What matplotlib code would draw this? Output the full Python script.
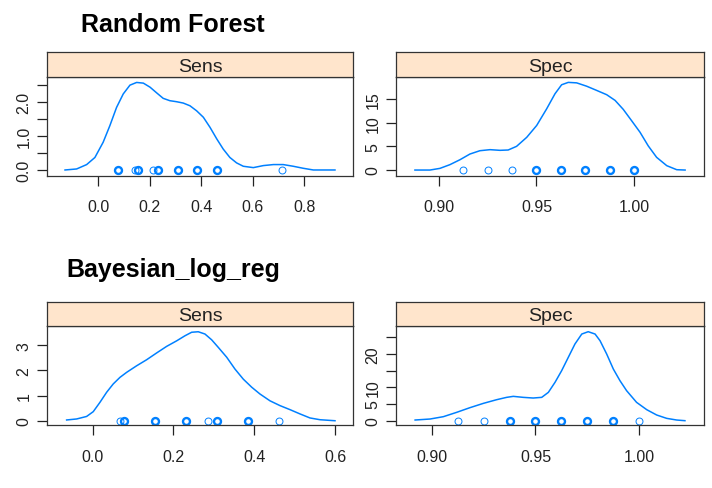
"""Density plots of Sens and Spec for two models, lattice style."""

import matplotlib.pyplot as plt

BLUE = "#0080ff"
STRIP = "#ffe5cc"

# Random Forest - Sens: density curve
rf_sens_x = [-0.129, -0.084, -0.045, -0.013, 0.019, 0.045, 0.071, 0.097, 0.123, 0.149,
             0.175, 0.201, 0.227, 0.252, 0.278, 0.304, 0.330, 0.356, 0.382, 0.408,
             0.434, 0.460, 0.485, 0.511, 0.537, 0.563, 0.602, 0.641, 0.680, 0.718,
             0.757, 0.796, 0.835, 0.919]
rf_sens_y = [0.0, 0.03, 0.16, 0.37, 0.82, 1.31, 1.85, 2.25, 2.51, 2.59,
             2.57, 2.45, 2.28, 2.12, 2.05, 2.02, 1.98, 1.90, 1.75, 1.56,
             1.26, 0.92, 0.62, 0.37, 0.21, 0.11, 0.07, 0.13, 0.16, 0.16,
             0.11, 0.05, 0.0, 0.0]
rf_sens_pts = [0.077, 0.143, 0.154, 0.214, 0.231, 0.308, 0.385, 0.462, 0.714]
rf_sens_cnt = [2, 1, 2, 1, 2, 2, 2, 2, 1]

# Random Forest - Spec
rf_spec_x = [0.8877, 0.8954, 0.9005, 0.9056, 0.9108, 0.9159, 0.9210, 0.9262, 0.9313, 0.9355,
             0.9398, 0.9450, 0.9501, 0.9552, 0.9595, 0.9629, 0.9663, 0.9706, 0.9757, 0.9809,
             0.9860, 0.9903, 0.9945, 0.9988, 1.0031, 1.0073, 1.0116, 1.0168, 1.0219, 1.0262]
rf_spec_y = [0.0, 0.0, 0.35, 1.13, 2.18, 3.38, 4.08, 4.30, 4.16, 4.23,
             5.0, 6.9, 9.4, 12.9, 16.1, 18.0, 18.5, 18.4, 17.7, 16.8,
             15.9, 14.7, 12.8, 10.4, 7.97, 5.1, 2.68, 0.92, 0.07, 0.0]
rf_spec_pts = [0.9125, 0.925, 0.9375, 0.95, 0.9625, 0.975, 0.9875, 1.0]
rf_spec_cnt = [1, 1, 1, 2, 2, 2, 2, 2]

# Bayesian_log_reg - Sens
bl_sens_x = [-0.0644, -0.0396, -0.0149, 0.0015, 0.0181, 0.0347, 0.0510, 0.0676, 0.0842, 0.1089,
             0.1337, 0.1585, 0.1832, 0.2080, 0.2285, 0.2451, 0.2614, 0.2780, 0.2946, 0.3110,
             0.3318, 0.3523, 0.3729, 0.3937, 0.4142, 0.4390, 0.4637, 0.4885, 0.5133, 0.5380,
             0.5628, 0.5999]
bl_sens_y = [0.03, 0.07, 0.17, 0.36, 0.73, 1.13, 1.46, 1.72, 1.92, 2.18,
             2.42, 2.69, 2.95, 3.17, 3.37, 3.51, 3.53, 3.44, 3.21, 2.91,
             2.52, 2.05, 1.65, 1.33, 1.06, 0.79, 0.60, 0.44, 0.27, 0.11,
             0.04, 0.0]
bl_sens_pts = [0.067, 0.077, 0.154, 0.231, 0.286, 0.308, 0.385, 0.462]
bl_sens_cnt = [1, 2, 2, 2, 1, 2, 2, 1]

# Bayesian_log_reg - Spec
bl_spec_x = [0.8920, 0.8992, 0.9056, 0.9120, 0.9184, 0.9249, 0.9313, 0.9361, 0.9393, 0.9441,
             0.9489, 0.9530, 0.9562, 0.9594, 0.9626, 0.9658, 0.9690, 0.9723, 0.9754, 0.9787,
             0.9811, 0.9843, 0.9875, 0.9907, 0.9939, 0.9987, 1.0036, 1.0084, 1.0132, 1.0180,
             1.0220]
bl_spec_y = [0.2, 0.5, 1.2, 2.5, 3.9, 5.2, 6.3, 7.0, 7.3, 7.0,
             6.8, 7.0, 8.5, 11.5, 15.0, 19.0, 23.0, 26.0, 26.7, 26.0,
             24.0, 20.0, 15.5, 12.0, 9.0, 5.5, 3.3, 1.7, 0.7, 0.2,
             0.0]
bl_spec_pts = [0.9125, 0.925, 0.9375, 0.95, 0.9625, 0.975, 0.9875, 1.0]
bl_spec_cnt = [1, 1, 2, 2, 2, 2, 2, 1]

plt.rcParams["font.family"] = ["Liberation Sans", "DejaVu Sans"]

fig = plt.figure(figsize=(7.12, 4.89), dpi=100)


def panel(rect, strip_h, label, cx, cy, pts, cnt, xlim, ylim, xticks, yticks, ylabels):
    left, bottom, width, height = rect
    ax = fig.add_axes([left, bottom, width, height])
    ax.plot(cx, cy, color=BLUE, lw=1.1, solid_joinstyle="round")
    for p, c in zip(pts, cnt):
        ax.plot([p], [0], marker="o", ms=5, mfc="none", mec=BLUE,
                mew=0.7 if c == 1 else 1.7, ls="none")
    ax.set_xlim(*xlim)
    ax.set_ylim(*ylim)
    ax.set_xticks(xticks)
    ax.set_xticklabels([f"{t:.1f}" if xticks[-1] < 0.9 else f"{t:.2f}" for t in xticks])
    ax.set_yticks(yticks)
    ax.set_yticklabels(ylabels, rotation=90, va="center")
    ax.tick_params(direction="out", length=7, width=0.9, labelsize=11.5,
                   colors="#222222")
    ax.tick_params(axis="x", pad=10)
    ax.tick_params(axis="y", pad=4)
    for s in ax.spines.values():
        s.set_linewidth(0.9)
        s.set_color("#333333")

    sx = fig.add_axes([left, bottom + height, width, strip_h])
    sx.set_facecolor(STRIP)
    sx.set_xticks([])
    sx.set_yticks([])
    for s in sx.spines.values():
        s.set_linewidth(0.9)
        s.set_color("#333333")
    sx.text(0.5, 0.42, label, ha="center", va="center", fontsize=14,
            color="#222222", transform=sx.transAxes)
    return ax


W1, W2 = 0.4298, 0.4326
panel((0.066, 0.6386, W1, 0.2025), 0.0511, "Sens", rf_sens_x, rf_sens_y,
      rf_sens_pts, rf_sens_cnt, (-0.199, 0.989), (-0.17, 2.76),
      [0.0, 0.2, 0.4, 0.6, 0.8], [0, 0.5, 1.0, 1.5, 2.0, 2.5],
      ["0.0", "", "1.0", "", "2.0", ""])
panel((0.5562, 0.6386, W2, 0.2025), 0.0511, "Spec", rf_spec_x, rf_spec_y,
      rf_spec_pts, rf_spec_cnt, (0.878, 1.0359), (-1.2, 19.7),
      [0.90, 0.95, 1.00], [0, 5, 10, 15], ["0", "5", "10", "15"])
panel((0.066, 0.1288, W1, 0.2031), 0.0491, "Sens", bl_sens_x, bl_sens_y,
      bl_sens_pts, bl_sens_cnt, (-0.113, 0.6445), (-0.17, 3.77),
      [0.0, 0.2, 0.4, 0.6], [0, 1, 2, 3], ["0", "1", "2", "3"])
panel((0.5562, 0.1288, W2, 0.2031), 0.0491, "Spec", bl_spec_x, bl_spec_y,
      bl_spec_pts, bl_spec_cnt, (0.8828, 1.0312), (-1.3, 28.5),
      [0.90, 0.95, 1.00], [0, 5, 10, 15, 20, 25], ["0", "5", "10", "", "20", ""])

fig.text(80.7 / 712, 1 - 31.7 / 489, "Random Forest", fontsize=18,
         fontweight="bold", ha="left", va="baseline")
fig.text(66.7 / 712, 1 - 276.5 / 489, "Bayesian_log_reg", fontsize=18,
         fontweight="bold", ha="left", va="baseline")

fig.savefig("out.png", dpi=100)
